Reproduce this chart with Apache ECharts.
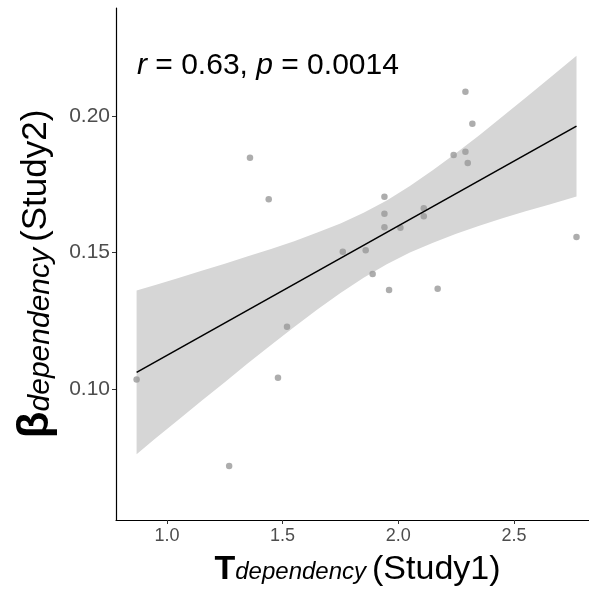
<!DOCTYPE html>
<html>
<head>
<meta charset="utf-8">
<script src="https://cdn.jsdelivr.net/npm/echarts@6/dist/echarts.min.js"></script>
<style>
  html, body { margin: 0; padding: 0; background: #fff; }
  #chart { width: 589px; height: 595px; }
</style>
</head>
<body>
<div id="chart"></div>
<script>
// points
const tDependency = [1.359, 1.440, 1.760, 2.290, 2.320, 2.239, 2.290, 2.300, 1.940, 1.940, 1.940, 2.009,
  2.110, 2.110, 1.859, 1.889, 1.960, 2.170, 2.770, 0.869, 1.519, 1.480, 1.269];
const betaDependency = [0.1847, 0.1695, 0.1503, 0.2089, 0.1972, 0.1857, 0.1869, 0.1828, 0.1704, 0.1642, 0.1593, 0.1591,
  0.1662, 0.1633, 0.1508, 0.1421, 0.1363, 0.1367, 0.1557, 0.1035, 0.1228, 0.1041, 0.0718];

// fitted line ends and the grey band edges
const fitX = [0.869, 2.770];
const fitY = [0.1061, 0.1963];
const bandX = [0.869, 0.95, 1.05, 1.15, 1.25, 1.35, 1.45, 1.55, 1.65, 1.75,
  1.85, 1.95, 2.05, 2.15, 2.25, 2.35, 2.45, 2.55, 2.65, 2.77];
const bandLower = [0.0761, 0.0819, 0.0887, 0.0957, 0.1025, 0.1094, 0.1161, 0.1227, 0.1291, 0.1352,
  0.1408, 0.1457, 0.1500, 0.1536, 0.1569, 0.1598, 0.1626, 0.1651, 0.1675, 0.1705];
const bandUpper = [0.1361, 0.1381, 0.1407, 0.1433, 0.1459, 0.1486, 0.1513, 0.1541, 0.1573, 0.1606,
  0.1646, 0.1691, 0.1744, 0.1802, 0.1865, 0.1930, 0.1998, 0.2067, 0.2137, 0.2221];

const xTicks = [1.0, 1.5, 2.0, 2.5];
const yTicks = [0.10, 0.15, 0.20];

const font = 'Liberation Sans, Arial, sans-serif';
const chart = echarts.init(document.getElementById('chart'));

const option = {
  animation: false,
  textStyle: { fontFamily: font },
  grid: { left: 116, top: 8, right: 0, bottom: 75 },
  xAxis: {
    type: 'value',
    min: 0.78,
    max: 2.824,
    axisLine: { show: true, lineStyle: { color: '#000', width: 1.2 } },
    axisTick: { show: true, length: 4, customValues: xTicks, lineStyle: { color: '#333', width: 1 } },
    axisLabel: { customValues: xTicks, margin: 7, color: '#4d4d4d', fontSize: 18, formatter: v => v.toFixed(1) },
    splitLine: { show: false },
    name: '{b|T}{s|dependency}{m|(Study1)}',
    nameLocation: 'middle',
    nameGap: 33,
    nameTextStyle: {
      padding: [0, 0, 0, 10],
      rich: {
        b: { fontSize: 34, fontWeight: 'bold', color: '#000', fontFamily: font },
        s: { fontSize: 24, fontStyle: 'italic', color: '#000', fontFamily: font, padding: [5, 0, 0, 0] },
        m: { fontSize: 34, color: '#000', fontFamily: font, padding: [0, 0, 0, 6] }
      }
    }
  },
  yAxis: {
    type: 'value',
    min: 0.052,
    max: 0.2396,
    axisLine: { show: true, lineStyle: { color: '#000', width: 1.2 } },
    axisTick: { show: true, length: 4, customValues: yTicks, lineStyle: { color: '#333', width: 1 } },
    axisLabel: { customValues: yTicks, margin: 6, color: '#4d4d4d', fontSize: 21, formatter: v => v.toFixed(2) },
    splitLine: { show: false },
    name: '{b|β}{s|dependency}{m|(Study2)}',
    nameLocation: 'middle',
    nameRotate: 90,
    nameGap: 52,
    nameTextStyle: {
      padding: [0, 20, 0, 0],
      rich: {
        b: { fontSize: 44, fontWeight: 'bold', color: '#000', fontFamily: font },
        s: { fontSize: 30, fontStyle: 'italic', color: '#000', fontFamily: font, padding: [9, 0, 0, 0] },
        m: { fontSize: 35, color: '#000', fontFamily: font, padding: [0, 0, 0, 6] }
      }
    }
  },
  graphic: [{
    type: 'text',
    left: 137,
    top: 51,
    style: {
      text: '{i|r} = 0.63, {i|p} = 0.0014',
      fontSize: 30,
      fontFamily: font,
      fill: '#000',
      rich: {
        i: { fontStyle: 'italic', fontSize: 30, fontFamily: font }
      }
    }
  }],
  series: [
    {
      type: 'custom',
      data: [[bandX[0], bandLower[0]]],
      z: 1,
      silent: true,
      renderItem: (params, api) => {
        const pts = [];
        bandX.forEach((x, i) => pts.push(api.coord([x, bandUpper[i]])));
        for (let i = bandX.length - 1; i >= 0; i--) pts.push(api.coord([bandX[i], bandLower[i]]));
        return { type: 'polygon', shape: { points: pts }, style: { fill: '#d6d6d6' } };
      }
    },
    {
      type: 'scatter',
      z: 3,
      symbolSize: 6.5,
      itemStyle: { color: '#999999' },
      data: tDependency.map((x, i) => [x, betaDependency[i]])
    },
    {
      type: 'line',
      z: 4,
      symbol: 'none',
      lineStyle: { color: '#000', width: 1.6 },
      data: fitX.map((x, i) => [x, fitY[i]])
    }
  ]
};

chart.setOption(option);
</script>
</body>
</html>
